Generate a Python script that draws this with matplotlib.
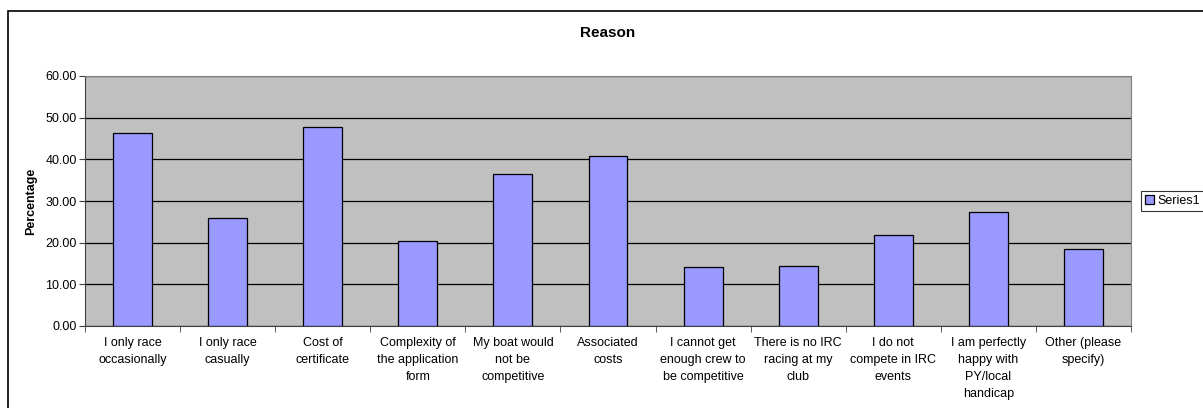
import matplotlib.pyplot as plt
from matplotlib.patches import Rectangle
import numpy as np

plt.rcParams['font.family'] = ['Liberation Sans', 'DejaVu Sans']

reasons = [
    "I only race\noccasionally",
    "I only race\ncasually",
    "Cost of\ncertificate",
    "Complexity of\nthe application\nform",
    "My boat would\nnot be\ncompetitive",
    "Associated\ncosts",
    "I cannot get\nenough crew to\nbe competitive",
    "There is no IRC\nracing at my\nclub",
    "I do not\ncompete in IRC\nevents",
    "I am perfectly\nhappy with\nPY/local\nhandicap",
    "Other (please\nspecify)",
]
percentage = [46.2, 25.9, 47.8, 20.3, 36.4, 40.9, 14.1, 14.3, 21.8, 27.4, 18.6]
yticks = [0, 10, 20, 30, 40, 50, 60]

fig = plt.figure(figsize=(12.03, 4.08), dpi=100)
ax = fig.add_axes([85 / 1203, 1 - 326 / 408, (1131 - 85) / 1203, 250 / 408])

# outer chart frame (runs off the right and bottom edges)
fig.patches.append(Rectangle((8 / 1203, -0.1), 1.2, 1 - 11 / 408 + 0.1,
                             transform=fig.transFigure, fill=False,
                             edgecolor='black', linewidth=1.2))

x = np.arange(len(reasons))
ax.set_facecolor('#C0C0C0')
ax.bar(x, percentage, width=0.41, color='#9999FF', edgecolor='black',
       linewidth=0.9, label='Series1', zorder=3)

ax.set_xlim(-0.5, len(reasons) - 0.5)
ax.set_ylim(0, 60)
ax.set_yticks(yticks)
ax.set_yticklabels([f"{v:.2f}" for v in yticks], fontsize=9)
ax.yaxis.grid(True, color='black', linewidth=0.9, zorder=1)
ax.set_axisbelow(True)

ax.set_xticks(x)
ax.set_xticklabels(reasons, fontsize=9, linespacing=1.55)
ax.set_xticks(np.arange(len(reasons) + 1) - 0.5, minor=True)
ax.tick_params(axis='x', which='major', length=0, pad=8)
ax.tick_params(axis='x', which='minor', length=4, color='#404040', direction='out')
ax.tick_params(axis='y', length=4, color='#404040', pad=2)

for side in ['top', 'right']:
    ax.spines[side].set_color('#808080')
for side in ['left', 'bottom']:
    ax.spines[side].set_color('#404040')

ax.set_ylabel('Percentage', fontsize=9, fontweight='bold', labelpad=6)
fig.text(608 / 1203, 1 - 33 / 408, 'Reason', fontsize=11, fontweight='bold',
         ha='center', va='center')

leg = ax.legend(loc='center left', bbox_to_anchor=(1141 / 1203, 1 - 201 / 408),
                bbox_transform=fig.transFigure, fontsize=9, frameon=True,
                fancybox=False, edgecolor='black', handlelength=0.7,
                handleheight=0.7, handletextpad=0.3, borderpad=0.3,
                borderaxespad=0)
leg.get_frame().set_linewidth(0.8)

fig.savefig('out.png', dpi=100, facecolor='white')
